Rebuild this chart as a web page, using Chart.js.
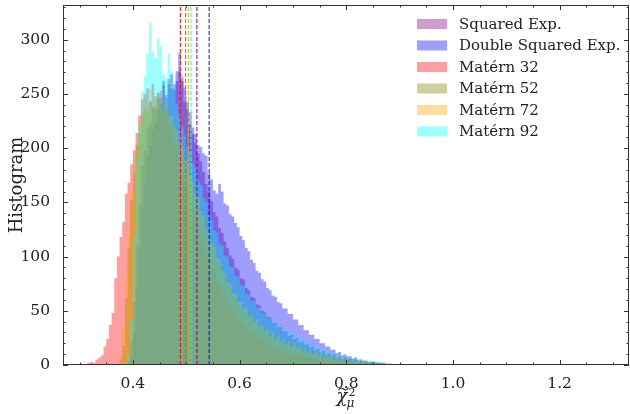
<!DOCTYPE html>
<html>
<head>
<meta charset="utf-8">
<script src="https://cdn.jsdelivr.net/npm/chart.js@4.4.1/dist/chart.umd.min.js"></script>
<style>
html, body { margin: 0; padding: 0; background: #fff; }
#wrap { width: 630px; height: 414px; }
</style>
</head>
<body>
<div id="wrap"><canvas id="chart"></canvas></div>
<script>
// Histogram bins: left edges start at binStart, fixed width
const binStart = 0.300;
const binWidth = 0.005;

const seriesNames = ['Squared Exp.', 'Double Squared Exp.', 'Matérn 32', 'Matérn 52', 'Matérn 72', 'Matérn 92'];
const seriesColors = ['128,0,128', '0,0,255', '255,0,0', '128,128,0', '255,165,0', '0,255,255'];
const meanValues = [0.520, 0.543, 0.489, 0.499, 0.504, 0.509];

const sqExp = [
    0, 0, 0, 0, 0, 0, 0, 0, 0, 0,
    0, 0, 0, 0, 0, 0, 0, 0, 1, 4,
    22, 58, 112, 148, 183, 198, 218, 222, 238, 236,
    251, 247, 258, 246, 264, 255, 259, 262, 271, 266,
    243, 236, 222, 213, 205, 195, 188, 178, 167, 160,
    151, 141, 137, 126, 122, 114, 108, 101, 98, 90,
    88, 80, 79, 71, 69, 63, 62, 56, 55, 50,
    49, 44, 44, 39, 39, 35, 35, 31, 31, 27,
    28, 24, 25, 21, 22, 19, 19, 16, 17, 14,
    15, 12, 13, 10, 11, 9, 10, 7, 8, 6,
    7, 5, 6, 4, 5, 3, 4, 3, 3, 2,
    3, 1, 2, 2, 1, 1, 1, 0, 1, 1
];
const dblSqExp = [
    0, 0, 0, 0, 0, 0, 0, 0, 0, 0,
    0, 0, 0, 0, 0, 0, 0, 0, 0, 1,
    8, 30, 72, 108, 146, 168, 192, 203, 217, 224,
    236, 241, 262, 249, 259, 268, 254, 271, 288, 262,
    256, 243, 233, 219, 213, 203, 201, 195, 193, 177,
    171, 161, 158, 167, 160, 149, 147, 139, 137, 131,
    127, 119, 115, 108, 105, 97, 94, 87, 85, 79,
    77, 71, 69, 64, 63, 58, 57, 52, 52, 47,
    47, 42, 42, 37, 37, 32, 32, 28, 28, 24,
    24, 20, 20, 17, 17, 14, 14, 11, 12, 9,
    10, 8, 8, 6, 7, 5, 5, 4, 4, 3,
    3, 3, 2, 2, 2, 2, 1, 1, 1, 1
];
const matern32 = [
    0, 0, 1, 0, 2, 3, 2, 5, 7, 9,
    17, 24, 37, 48, 80, 100, 118, 132, 158, 168,
    185, 198, 214, 230, 245, 250, 255, 243, 259, 248,
    246, 253, 236, 234, 224, 216, 203, 198, 184, 180,
    166, 162, 148, 144, 133, 128, 116, 112, 101, 98,
    88, 86, 76, 74, 66, 64, 57, 55, 49, 47,
    42, 41, 36, 36, 31, 31, 27, 27, 23, 24,
    20, 21, 17, 18, 15, 16, 13, 14, 11, 13,
    10, 11, 9, 10, 8, 9, 7, 8, 6, 7,
    5, 7, 4, 6, 4, 5, 3, 5, 3, 3,
    2, 4, 2, 3, 1, 3, 2, 2, 1, 2,
    1, 1, 0, 2, 1, 1, 0, 1, 0, 1
];
const matern52 = [
    0, 0, 0, 0, 0, 0, 0, 0, 0, 0,
    0, 0, 0, 0, 0, 1, 5, 18, 62, 108,
    152, 178, 203, 213, 230, 236, 234, 243, 238, 239,
    246, 240, 236, 238, 230, 222, 220, 208, 206, 194,
    190, 180, 172, 165, 156, 149, 140, 133, 124, 118,
    110, 105, 96, 92, 84, 80, 73, 70, 64, 62,
    57, 55, 50, 49, 44, 43, 39, 39, 35, 35,
    31, 31, 27, 28, 24, 25, 21, 22, 19, 20,
    17, 18, 15, 16, 13, 14, 11, 13, 10, 11,
    9, 10, 7, 9, 6, 8, 5, 7, 5, 5,
    4, 5, 3, 5, 3, 3, 2, 4, 2, 2,
    1, 3, 1, 1, 2, 1, 0, 2, 0, 1
];
const matern72 = [
    0, 0, 0, 0, 0, 0, 0, 0, 0, 0,
    0, 0, 0, 0, 0, 1, 8, 35, 80, 125,
    160, 192, 203, 224, 233, 246, 238, 254, 244, 242,
    248, 247, 236, 246, 230, 230, 220, 217, 206, 202,
    190, 186, 174, 170, 158, 154, 142, 138, 126, 123,
    112, 109, 99, 97, 87, 85, 76, 75, 66, 66,
    58, 58, 51, 52, 45, 46, 40, 42, 35, 37,
    31, 33, 27, 30, 24, 27, 21, 24, 19, 22,
    17, 20, 15, 18, 13, 16, 11, 14, 10, 13,
    8, 12, 7, 10, 6, 9, 5, 8, 4, 7,
    4, 6, 3, 5, 3, 4, 2, 4, 1, 3,
    1, 3, 1, 2, 0, 2, 1, 1, 0, 1
];
const matern92 = [
    0, 0, 0, 0, 0, 0, 0, 0, 0, 0,
    0, 0, 0, 0, 0, 0, 0, 0, 2, 9,
    42, 118, 192, 222, 252, 266, 287, 316, 289, 283,
    301, 294, 268, 264, 287, 271, 257, 241, 231, 219,
    212, 201, 197, 186, 182, 170, 166, 154, 150, 138,
    134, 124, 122, 112, 110, 101, 100, 91, 90, 82,
    81, 74, 73, 66, 65, 59, 59, 53, 53, 48,
    49, 43, 44, 39, 40, 35, 36, 31, 33, 28,
    31, 26, 28, 23, 25, 20, 22, 18, 19, 16,
    17, 14, 15, 12, 13, 10, 11, 8, 10, 7,
    9, 6, 8, 5, 7, 4, 6, 3, 5, 3,
    4, 2, 3, 2, 2, 1, 2, 1, 1, 0
];
const allSeries = [sqExp, dblSqExp, matern32, matern52, matern72, matern92];

const xTicks = [0.4, 0.6, 0.8, 1.0, 1.2];
const yTicks = [0, 50, 100, 150, 200, 250, 300];
const xMin = 0.269, xMax = 1.33;
const yMin = 0, yMax = 332;

const serif = '"DejaVu Serif", "Liberation Serif", serif';

function histPoints(values) {
    const pts = values.map((v, i) => ({ x: binStart + i * binWidth, y: v }));
    pts.push({ x: binStart + values.length * binWidth, y: 0 });
    return pts;
}

const datasets = [];
allSeries.forEach((values, i) => {
    datasets.push({
        label: seriesNames[i],
        data: histPoints(values),
        stepped: 'after',
        fill: 'origin',
        backgroundColor: `rgba(${seriesColors[i]},0.38)`,
        borderColor: 'transparent',
        borderWidth: 0,
        pointRadius: 0,
        order: 10 - i
    });
});
meanValues.forEach((m, i) => {
    datasets.push({
        label: 'mean ' + seriesNames[i],
        data: [{ x: m, y: yMin }, { x: m, y: yMax }],
        borderColor: `rgb(${seriesColors[i]})`,
        borderWidth: 1,
        borderDash: [4, 2],
        fill: false,
        pointRadius: 0,
        order: 0
    });
});

// matplotlib-like frame, inward ticks, axis titles and legend
const decorPlugin = {
    id: 'decor',
    afterDraw(chart) {
        const ctx = chart.ctx;
        const { left, right, top, bottom } = chart.chartArea;
        const xs = chart.scales.x, ys = chart.scales.y;
        ctx.save();
        ctx.strokeStyle = '#333';
        ctx.lineWidth = 1;
        ctx.strokeRect(left + 0.5, top + 0.5, right - left - 1, bottom - top - 1);

        ctx.beginPath();
        for (let v = 0.30; v <= xMax; v += 0.05) {
            const major = xTicks.some(t => Math.abs(t - v) < 1e-6);
            const len = major ? 5 : 2.5;
            const px = Math.round(xs.getPixelForValue(v)) + 0.5;
            ctx.moveTo(px, bottom); ctx.lineTo(px, bottom - len);
            ctx.moveTo(px, top); ctx.lineTo(px, top + len);
        }
        for (let v = 0; v <= yMax; v += 10) {
            const major = v % 50 === 0;
            const len = major ? 5 : 2.5;
            const py = Math.round(ys.getPixelForValue(v)) + 0.5;
            ctx.moveTo(left, py); ctx.lineTo(left + len, py);
            ctx.moveTo(right, py); ctx.lineTo(right - len, py);
        }
        ctx.stroke();

        // y title
        ctx.fillStyle = '#222';
        ctx.save();
        ctx.translate(17, (top + bottom) / 2);
        ctx.rotate(-Math.PI / 2);
        ctx.textAlign = 'center';
        ctx.textBaseline = 'middle';
        ctx.font = '18px ' + serif;
        ctx.fillText('Histogram', 0, 0);
        ctx.restore();

        // x title: chi tilde, superscript 2, subscript mu
        const cx = (left + right) / 2;
        ctx.textAlign = 'left';
        ctx.textBaseline = 'alphabetic';
        ctx.font = 'italic 18px ' + serif;
        const w = ctx.measureText('χ').width;
        const x0 = cx - (w + 8) / 2;
        ctx.fillText('χ', x0, 402);
        ctx.lineWidth = 1.1;
        ctx.strokeStyle = '#222';
        ctx.beginPath();
        const tx = x0 + 2, ty = 389;
        ctx.moveTo(tx, ty + 1);
        ctx.bezierCurveTo(tx + 2, ty - 2, tx + 4, ty - 1, tx + 5, ty);
        ctx.bezierCurveTo(tx + 6, ty + 1, tx + 8, ty + 2, tx + 10, ty - 1.5);
        ctx.stroke();
        ctx.font = '11px ' + serif;
        ctx.fillText('2', x0 + w + 1, 396);
        ctx.font = 'italic 12px ' + serif;
        ctx.fillText('μ', x0 + w - 1, 407);

        // legend
        const lx = right - 212;
        let ly = top + 19;
        ctx.font = '15px ' + serif;
        ctx.textBaseline = 'middle';
        seriesNames.forEach((name, i) => {
            ctx.fillStyle = `rgba(${seriesColors[i]},0.38)`;
            ctx.fillRect(lx, ly - 5, 30, 10);
            ctx.fillStyle = '#222';
            ctx.fillText(name, lx + 42, ly + 1);
            ly += 21.5;
        });
        ctx.restore();
    }
};

new Chart(document.getElementById('chart'), {
    type: 'line',
    data: { datasets: datasets },
    options: {
        responsive: true,
        maintainAspectRatio: false,
        animation: false,
        devicePixelRatio: 1,
        layout: { padding: { top: 5, right: 1, left: 0, bottom: 0 } },
        plugins: {
            legend: { display: false },
            tooltip: { enabled: false }
        },
        scales: {
            x: {
                type: 'linear',
                min: xMin,
                max: xMax,
                grid: { display: false },
                border: { display: false },
                ticks: {
                    color: '#222',
                    font: { family: serif, size: 15.5 },
                    padding: 2,
                    maxRotation: 0,
                    autoSkip: false,
                    callback: v => v.toFixed(1)
                },
                afterBuildTicks: s => { s.ticks = xTicks.map(v => ({ value: v })); },
                afterFit: s => { s.height = 49; s.paddingLeft = 0; s.paddingRight = 0; }
            },
            y: {
                type: 'linear',
                min: yMin,
                max: yMax,
                grid: { display: false },
                border: { display: false },
                ticks: {
                    color: '#222',
                    font: { family: serif, size: 15.5 },
                    padding: 5,
                    autoSkip: false
                },
                afterBuildTicks: s => { s.ticks = yTicks.map(v => ({ value: v })); },
                afterFit: s => { s.width = 63; s.paddingTop = 0; s.paddingBottom = 0; }
            }
        }
    },
    plugins: [decorPlugin]
});
</script>
</body>
</html>
